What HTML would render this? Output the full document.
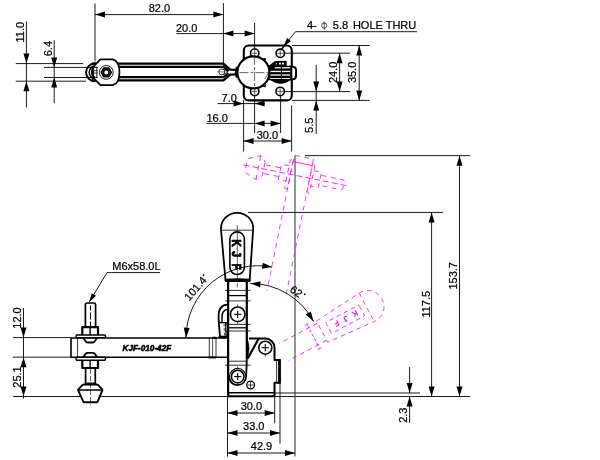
<!DOCTYPE html>
<html><head><meta charset="utf-8"><title>Toggle clamp KJF-010-42F</title>
<style>html,body{margin:0;padding:0;background:#fff;overflow:hidden}svg{display:block;will-change:transform;transform:translateZ(0)}text{font-family:"Liberation Sans",sans-serif;fill:#000;stroke:#000;stroke-width:0.22px}</style></head><body>
<svg width="600" height="460" viewBox="0 0 600 460" stroke-linecap="butt" stroke-linejoin="round">
<rect x="0" y="0" width="600" height="460" fill="#fff"/>
<line x1="95.00" y1="3.50" x2="95.00" y2="61.50" stroke="#000" stroke-width="0.9" />
<line x1="223.40" y1="3.00" x2="223.40" y2="68.00" stroke="#000" stroke-width="0.9" />
<line x1="95.00" y1="14.60" x2="223.40" y2="14.60" stroke="#000" stroke-width="0.9" />
<polygon points="95.00,14.60 105.00,11.60 105.00,17.60" fill="#000"/>
<polygon points="223.40,14.60 213.40,17.60 213.40,11.60" fill="#000"/>
<text x="159.40" y="12.20" text-anchor="middle" font-size="11" >82.0</text>
<line x1="254.60" y1="23.00" x2="254.60" y2="133.00" stroke="#000" stroke-width="0.9" />
<line x1="176.40" y1="33.60" x2="254.60" y2="33.60" stroke="#000" stroke-width="0.9" />
<polygon points="223.40,33.60 233.40,30.60 233.40,36.60" fill="#000"/>
<polygon points="254.60,33.60 244.60,36.60 244.60,30.60" fill="#000"/>
<text x="186.70" y="31.70" text-anchor="middle" font-size="11" >20.0</text>
<line x1="26.40" y1="21.50" x2="26.40" y2="107.50" stroke="#000" stroke-width="0.9" />
<line x1="15.80" y1="63.60" x2="83.00" y2="63.60" stroke="#000" stroke-width="0.9" />
<line x1="15.80" y1="81.20" x2="86.00" y2="81.20" stroke="#000" stroke-width="0.9" />
<polygon points="26.40,63.60 23.40,53.60 29.40,53.60" fill="#000"/>
<polygon points="26.40,81.20 29.40,91.20 23.40,91.20" fill="#000"/>
<text x="24.40" y="32.20" text-anchor="middle" font-size="11" transform="rotate(-90 24.40 32.20)" >11.0</text>
<line x1="54.20" y1="40.30" x2="54.20" y2="103.30" stroke="#000" stroke-width="0.9" />
<line x1="44.00" y1="67.40" x2="92.00" y2="67.40" stroke="#000" stroke-width="0.9" />
<line x1="44.00" y1="77.50" x2="92.00" y2="77.50" stroke="#000" stroke-width="0.9" />
<polygon points="54.20,67.40 51.20,57.40 57.20,57.40" fill="#000"/>
<polygon points="54.20,77.50 57.20,87.50 51.20,87.50" fill="#000"/>
<text x="52.00" y="48.60" text-anchor="middle" font-size="11" transform="rotate(-90 52.00 48.60)" >6.4</text>
<line x1="243.60" y1="100.00" x2="243.60" y2="151.50" stroke="#000" stroke-width="0.9" />
<line x1="217.60" y1="103.60" x2="265.00" y2="103.60" stroke="#000" stroke-width="0.9" />
<polygon points="243.60,103.60 233.60,106.60 233.60,100.60" fill="#000"/>
<polygon points="254.60,103.60 264.60,100.60 264.60,106.60" fill="#000"/>
<text x="229.20" y="101.70" text-anchor="middle" font-size="11" >7.0</text>
<line x1="280.60" y1="92.00" x2="280.60" y2="133.00" stroke="#000" stroke-width="0.9" />
<line x1="206.40" y1="123.40" x2="280.60" y2="123.40" stroke="#000" stroke-width="0.9" />
<polygon points="254.60,123.40 264.60,120.40 264.60,126.40" fill="#000"/>
<polygon points="280.60,123.40 270.60,126.40 270.60,120.40" fill="#000"/>
<text x="217.10" y="121.60" text-anchor="middle" font-size="11" >16.0</text>
<line x1="291.60" y1="105.50" x2="291.60" y2="151.50" stroke="#000" stroke-width="0.9" />
<line x1="243.60" y1="141.00" x2="291.60" y2="141.00" stroke="#000" stroke-width="0.9" />
<polygon points="243.60,141.00 253.60,138.00 253.60,144.00" fill="#000"/>
<polygon points="291.60,141.00 281.60,144.00 281.60,138.00" fill="#000"/>
<text x="267.40" y="138.50" text-anchor="middle" font-size="11" >30.0</text>
<line x1="292.00" y1="45.50" x2="369.50" y2="45.50" stroke="#000" stroke-width="0.9" />
<line x1="285.00" y1="53.20" x2="350.00" y2="53.20" stroke="#000" stroke-width="0.9" />
<line x1="285.00" y1="91.60" x2="350.00" y2="91.60" stroke="#000" stroke-width="0.9" />
<line x1="292.00" y1="100.40" x2="369.50" y2="100.40" stroke="#000" stroke-width="0.9" />
<line x1="339.60" y1="53.20" x2="339.60" y2="91.60" stroke="#000" stroke-width="0.9" />
<polygon points="339.60,53.20 342.60,63.20 336.60,63.20" fill="#000"/>
<polygon points="339.60,91.60 336.60,81.60 342.60,81.60" fill="#000"/>
<text x="337.40" y="72.40" text-anchor="middle" font-size="11" transform="rotate(-90 337.40 72.40)" >24.0</text>
<line x1="359.20" y1="45.50" x2="359.20" y2="100.40" stroke="#000" stroke-width="0.9" />
<polygon points="359.20,45.50 362.20,55.50 356.20,55.50" fill="#000"/>
<polygon points="359.20,100.40 356.20,90.40 362.20,90.40" fill="#000"/>
<text x="356.20" y="72.40" text-anchor="middle" font-size="11" transform="rotate(-90 356.20 72.40)" >35.0</text>
<line x1="316.20" y1="65.00" x2="316.20" y2="134.00" stroke="#000" stroke-width="0.9" />
<polygon points="316.20,91.60 313.20,81.60 319.20,81.60" fill="#000"/>
<polygon points="316.20,100.40 319.20,110.40 313.20,110.40" fill="#000"/>
<text x="313.40" y="125.30" text-anchor="middle" font-size="11" transform="rotate(-90 313.40 125.30)" >5.5</text>
<path d="M 284.6,45.2 L 295.5,31.7 L 417,31.7" stroke="#000" stroke-width="0.9" fill="none" />
<polygon points="283.40,46.60 287.12,38.03 291.01,41.18" fill="#000"/>
<line x1="284.50" y1="45.50" x2="281.50" y2="49.50" stroke="#000" stroke-width="1.4" />
<text x="307.00" y="29.30" text-anchor="start" font-size="11" >4-</text>
<circle cx="324.20" cy="25.60" r="2.60" stroke="#000" stroke-width="0.7" fill="none" />
<line x1="324.20" y1="21.60" x2="324.20" y2="29.80" stroke="#000" stroke-width="0.7" />
<text x="332.80" y="29.30" text-anchor="start" font-size="11" >5.8</text>
<text x="352.90" y="29.30" text-anchor="start" font-size="11" >HOLE THRU</text>
<path d="M 92,63.7 L 223.4,63.7 L 230.2,69.6 L 237,69.9" stroke="#000" stroke-width="2.3" fill="none" />
<path d="M 92,80.4 L 223.4,80.4 L 230.2,74.6 L 237,74.3" stroke="#000" stroke-width="2.3" fill="none" />
<path d="M 92,66.9 L 223.4,66.9 L 228.6,71.0" stroke="#000" stroke-width="2.3" fill="none" />
<path d="M 92,77.2 L 223.4,77.2 L 228.6,73.3" stroke="#000" stroke-width="2.3" fill="none" />
<circle cx="221.80" cy="71.90" r="3.00" stroke="#000" stroke-width="0.8" fill="none" />
<path d="M 223.6,69.2 L 228.0,71.9 L 223.6,74.6" stroke="#000" stroke-width="0.8" fill="none" />
<line x1="217.00" y1="71.90" x2="225.50" y2="71.90" stroke="#000" stroke-width="0.5" />
<path d="M 236.8,66.89999999999999 Q 234.6,72.3 236.8,77.7" stroke="#000" stroke-width="1.8" fill="none" />
<path d="M 95.0,65.1 L 100.4,59.4 L 112.6,59.4 C 117.4,60.5 119.5,64.7 119.5,72.3 C 119.5,79.89999999999999 117.4,84.1 112.6,85.2 L 100.4,85.2 L 95.0,79.5" stroke="#000" stroke-width="1.7" fill="#fff" />
<path d="M 95.4,63.3 A 9.4,9.0 0 0 0 95.4,81.3" stroke="#000" stroke-width="2.0" fill="none" />
<path d="M 95.4,65.7 A 6.2,6.6 0 0 0 95.4,78.89999999999999" stroke="#000" stroke-width="1.5" fill="none" />
<path d="M 92.6,67.3 Q 91.2,72.3 92.6,77.3" stroke="#000" stroke-width="1.9" fill="none" />
<line x1="93.00" y1="67.40" x2="97.60" y2="67.40" stroke="#000" stroke-width="0.9" />
<line x1="93.00" y1="77.40" x2="97.60" y2="77.40" stroke="#000" stroke-width="0.9" />
<line x1="93.00" y1="70.70" x2="97.60" y2="70.70" stroke="#000" stroke-width="0.8" />
<line x1="93.00" y1="73.10" x2="97.60" y2="73.10" stroke="#000" stroke-width="0.8" />
<line x1="93.50" y1="66.80" x2="93.50" y2="77.80" stroke="#000" stroke-width="0.9" />
<line x1="96.90" y1="66.80" x2="96.90" y2="77.80" stroke="#000" stroke-width="0.9" />
<circle cx="106.30" cy="72.40" r="6.90" stroke="#000" stroke-width="0.9" fill="none" />
<path d="M 111.20,72.40 L 108.75,76.64 L 103.85,76.64 L 101.40,72.40 L 103.85,68.16 L 108.75,68.16 Z" stroke="#000" stroke-width="1.8" fill="none" />
<circle cx="106.30" cy="72.40" r="2.80" stroke="#000" stroke-width="1.6" fill="none" />
<rect x="243.8" y="45.5" width="48" height="54.9" rx="5" ry="5" fill="none" stroke="#000" stroke-width="2.1"/>
<circle cx="254.70" cy="53.20" r="4.20" stroke="#000" stroke-width="1.6" fill="#fff" />
<line x1="251.70" y1="53.20" x2="257.70" y2="53.20" stroke="#000" stroke-width="0.6" />
<line x1="254.70" y1="50.20" x2="254.70" y2="56.20" stroke="#000" stroke-width="0.6" />
<circle cx="280.30" cy="53.30" r="4.20" stroke="#000" stroke-width="1.6" fill="#fff" />
<line x1="277.30" y1="53.30" x2="283.30" y2="53.30" stroke="#000" stroke-width="0.6" />
<line x1="280.30" y1="50.30" x2="280.30" y2="56.30" stroke="#000" stroke-width="0.6" />
<circle cx="254.70" cy="91.40" r="4.20" stroke="#000" stroke-width="1.6" fill="#fff" />
<line x1="251.70" y1="91.40" x2="257.70" y2="91.40" stroke="#000" stroke-width="0.6" />
<line x1="254.70" y1="88.40" x2="254.70" y2="94.40" stroke="#000" stroke-width="0.6" />
<circle cx="280.20" cy="91.40" r="4.20" stroke="#000" stroke-width="1.6" fill="#fff" />
<line x1="277.20" y1="91.40" x2="283.20" y2="91.40" stroke="#000" stroke-width="0.6" />
<line x1="280.20" y1="88.40" x2="280.20" y2="94.40" stroke="#000" stroke-width="0.6" />
<g transform="translate(0 0.7)">
<path d="M 270.2,79 Q 281,86.6 290.6,79 Z" stroke="#000" stroke-width="0.6" fill="#000" />
<polygon points="268.2,65.6 275.4,60.0 275.4,65.6" fill="#000"/>
<rect x="275.2" y="60.2" width="11.4" height="5.2" fill="#000"/>
<rect x="279.0" y="61.9" width="1.9" height="1.9" fill="#fff"/>
<rect x="281.9" y="61.9" width="2.1" height="1.9" fill="#fff"/>
<rect x="276.1" y="62.3" width="0.9" height="1.4" fill="#ddd"/>
<rect x="268.6" y="65.0" width="22" height="14.5" fill="#000"/>
<rect x="274.8" y="66.5" width="15.4" height="1.2" fill="#fff"/>
<rect x="270.3" y="70.1" width="19.9" height="1.3" fill="#fff"/>
<rect x="270.3" y="73.7" width="19.9" height="1.3" fill="#fff"/>
<rect x="270.0" y="77.3" width="20.2" height="0.9" fill="#fff"/>
<line x1="281.40" y1="65.00" x2="281.40" y2="82.00" stroke="#000" stroke-width="1.0" />
<path d="M 291,66.0 L 293,66.0 Q 296.0,66.2 296.0,69.6 L 296.0,75 Q 296.0,78.4 293,78.6 L 291,78.6" stroke="#000" stroke-width="2.0" fill="#fff" />
<line x1="291.30" y1="64.60" x2="291.30" y2="80.00" stroke="#000" stroke-width="2.0" />
</g>
<circle cx="253.40" cy="72.40" r="16.00" stroke="#000" stroke-width="2.1" fill="#fff" />
<polygon points="262.5,58.2 265.5,58 266.3,61.2" fill="#000"/>
<polygon points="262.5,87 265.5,87.2 266.3,84" fill="#000"/>
<line x1="239.50" y1="72.60" x2="268.50" y2="72.60" stroke="#000" stroke-width="0.6" stroke-dasharray="9 2 3 2"/>
<line x1="254.60" y1="56.00" x2="254.60" y2="89.00" stroke="#000" stroke-width="0.6" stroke-dasharray="9 2 3 2"/>
<line x1="264.80" y1="79.00" x2="268.60" y2="72.60" stroke="#000" stroke-width="0.6" />
<line x1="13.00" y1="396.50" x2="470.00" y2="396.50" stroke="#000" stroke-width="0.9" />
<line x1="274.50" y1="393.00" x2="420.00" y2="393.00" stroke="#000" stroke-width="0.9" />
<line x1="13.00" y1="337.60" x2="71.00" y2="337.60" stroke="#000" stroke-width="0.9" />
<line x1="13.00" y1="357.20" x2="71.00" y2="357.20" stroke="#000" stroke-width="0.9" />
<line x1="295.00" y1="155.40" x2="295.00" y2="456.50" stroke="#2a2a2a" stroke-width="1.0" />
<line x1="305.00" y1="155.65" x2="470.00" y2="155.65" stroke="#000" stroke-width="0.9" />
<line x1="248.00" y1="212.45" x2="443.00" y2="212.45" stroke="#000" stroke-width="0.9" />
<line x1="23.50" y1="308.00" x2="23.50" y2="398.50" stroke="#000" stroke-width="0.9" />
<polygon points="23.50,337.60 20.50,327.60 26.50,327.60" fill="#000"/>
<polygon points="23.50,357.20 26.50,367.20 20.50,367.20" fill="#000"/>
<polygon points="23.50,396.50 20.50,386.50 26.50,386.50" fill="#000"/>
<text x="21.00" y="318.00" text-anchor="middle" font-size="11" transform="rotate(-90 21.00 318.00)" >12.0</text>
<text x="20.80" y="377.00" text-anchor="middle" font-size="11" transform="rotate(-90 20.80 377.00)" >25.1</text>
<path d="M 89.6,301.5 L 107,272.6 L 160,272.6" stroke="#000" stroke-width="0.9" fill="none" />
<polygon points="89.00,302.60 91.75,293.17 96.04,295.74" fill="#000"/>
<text x="112.30" y="270.00" text-anchor="start" font-size="11" >M6x58.0L</text>
<line x1="431.60" y1="212.45" x2="431.60" y2="396.50" stroke="#000" stroke-width="0.9" />
<polygon points="431.60,212.45 434.60,222.45 428.60,222.45" fill="#000"/>
<polygon points="431.60,396.50 428.60,386.50 434.60,386.50" fill="#000"/>
<text x="429.60" y="304.20" text-anchor="middle" font-size="11" transform="rotate(-90 429.60 304.20)" >117.5</text>
<line x1="459.50" y1="155.65" x2="459.50" y2="396.50" stroke="#000" stroke-width="0.9" />
<polygon points="459.50,155.65 462.50,165.65 456.50,165.65" fill="#000"/>
<polygon points="459.50,396.50 456.50,386.50 462.50,386.50" fill="#000"/>
<text x="456.60" y="275.80" text-anchor="middle" font-size="11" transform="rotate(-90 456.60 275.80)" >153.7</text>
<line x1="409.60" y1="367.00" x2="409.60" y2="393.00" stroke="#000" stroke-width="0.9" />
<line x1="409.60" y1="396.50" x2="409.60" y2="423.00" stroke="#000" stroke-width="0.9" />
<polygon points="409.60,393.00 406.60,383.00 412.60,383.00" fill="#000"/>
<polygon points="409.60,396.50 412.60,406.50 406.60,406.50" fill="#000"/>
<text x="407.20" y="415.20" text-anchor="middle" font-size="11" transform="rotate(-90 407.20 415.20)" >2.3</text>
<line x1="227.50" y1="396.50" x2="227.50" y2="456.70" stroke="#000" stroke-width="0.9" />
<line x1="274.70" y1="396.50" x2="274.70" y2="423.30" stroke="#000" stroke-width="0.9" />
<line x1="280.00" y1="383.00" x2="280.00" y2="443.70" stroke="#000" stroke-width="0.9" />
<line x1="227.50" y1="413.00" x2="274.70" y2="413.00" stroke="#000" stroke-width="0.9" />
<polygon points="227.50,413.00 237.50,410.00 237.50,416.00" fill="#000"/>
<polygon points="274.70,413.00 264.70,416.00 264.70,410.00" fill="#000"/>
<text x="251.40" y="410.40" text-anchor="middle" font-size="11" >30.0</text>
<line x1="227.50" y1="433.00" x2="280.00" y2="433.00" stroke="#000" stroke-width="0.9" />
<polygon points="227.50,433.00 237.50,430.00 237.50,436.00" fill="#000"/>
<polygon points="280.00,433.00 270.00,436.00 270.00,430.00" fill="#000"/>
<text x="253.80" y="430.40" text-anchor="middle" font-size="11" >33.0</text>
<line x1="227.50" y1="453.00" x2="295.00" y2="453.00" stroke="#000" stroke-width="0.9" />
<polygon points="227.50,453.00 237.50,450.00 237.50,456.00" fill="#000"/>
<polygon points="295.00,453.00 285.00,456.00 285.00,450.00" fill="#000"/>
<text x="261.50" y="450.20" text-anchor="middle" font-size="11" >42.9</text>
<g transform="rotate(101.4 265.3 347.6)">
<path d="M 209.0,337.6 L 71.0,337.6 L 71.0,357.2 L 209.0,357.2" stroke="#ff00ff" stroke-width="0.75" fill="none" stroke-dasharray="5 4.5"/>
<line x1="77.60" y1="337.60" x2="77.60" y2="357.20" stroke="#ff00ff" stroke-width="0.8" />
<path d="M 85.4,326.5 L 85.4,304.6 Q 85.5,303 87,303 L 94,303 Q 95.5,303 95.6,304.6 L 95.6,326.5" stroke="#ff00ff" stroke-width="0.75" fill="none" stroke-dasharray="5 4.5"/>
<path d="M 82.3,335 L 82.3,327.2 L 98.0,327.2 L 98.0,335" stroke="#ff00ff" stroke-width="0.8" fill="none" stroke-dasharray="5 4.5"/>
<path d="M 76.5,335 L 105,335 Q 106.3,336.3 105,337.6 L 76.5,337.6 Q 75.2,336.3 76.5,335 Z" stroke="#ff00ff" stroke-width="0.8" fill="none" stroke-dasharray="5 4.5"/>
<path d="M 76.5,357.2 L 105,357.2 Q 106.3,358.7 105,360.2 L 76.5,360.2 Q 75.2,358.7 76.5,357.2 Z" stroke="#ff00ff" stroke-width="0.8" fill="none" stroke-dasharray="5 4.5"/>
<path d="M 82.3,360.2 L 82.3,368.0 L 98.0,368.0 L 98.0,360.2" stroke="#ff00ff" stroke-width="0.8" fill="none" stroke-dasharray="5 4.5"/>
<path d="M 86.0,368.6 L 86.0,384 M 95.0,368.6 L 95.0,384" stroke="#ff00ff" stroke-width="0.8" fill="none" stroke-dasharray="5 4.5"/>
<path d="M 84,384.5 L 96.6,384.5 Q 98,384.6 99,385.8 L 102.5,389.8 L 97.8,401.3 Q 97.4,402.3 96.3,402.3 L 84.7,402.3 Q 83.6,402.3 83.2,401.3 L 78,389.8 L 81.6,385.8 Q 82.6,384.6 84,384.5 Z" stroke="#ff00ff" stroke-width="0.8" fill="none" stroke-dasharray="5 4.5"/>
<line x1="78.60" y1="390.00" x2="101.90" y2="390.00" stroke="#ff00ff" stroke-width="0.8" stroke-dasharray="5 4.5"/>
<line x1="90.50" y1="300.00" x2="90.50" y2="408.00" stroke="#ff00ff" stroke-width="0.8" stroke-dasharray="6 3"/>
</g>
<g transform="rotate(62 237.7 376.6)">
<path d="M 225.6,281 L 221.3,233 Q 220.9,230 221.0,228.3 A 16.1,15.5 0 0 1 253.2,228.3 Q 253.3,230 252.9,233 L 249.6,281 Z" stroke="#ff00ff" stroke-width="0.75" fill="none" stroke-dasharray="4.5 4"/>
<line x1="220.80" y1="230.20" x2="253.40" y2="230.20" stroke="#ff00ff" stroke-width="0.75" stroke-dasharray="4.5 4"/>
<rect x="231.3" y="236" width="12.4" height="37.5" rx="1" ry="1" fill="none" stroke="#ff00ff" stroke-width="0.75" stroke-dasharray="4.5 3.5"/>
<text x="0" y="0" text-anchor="middle" transform="translate(234.6 243.5) rotate(90)" font-size="8" font-weight="bold" style="fill:#ff00ff;stroke:none">K</text>
<text x="0" y="0" text-anchor="middle" transform="translate(234.6 254.0) rotate(90)" font-size="8" font-weight="bold" style="fill:#ff00ff;stroke:none">J</text>
<text x="0" y="0" text-anchor="middle" transform="translate(234.6 264.5) rotate(90)" font-size="8" font-weight="bold" style="fill:#ff00ff;stroke:none">F</text>
<path d="M 228,281 L 228,324 M 247.4,281 L 247.4,324" stroke="#ff00ff" stroke-width="0.8" fill="none" stroke-dasharray="4.5 4"/>
<line x1="225.00" y1="291.00" x2="250.50" y2="291.00" stroke="#ff00ff" stroke-width="0.8" stroke-dasharray="3 2"/>
<line x1="224.00" y1="289.00" x2="224.00" y2="293.00" stroke="#ff00ff" stroke-width="0.8" />
<line x1="251.50" y1="289.00" x2="251.50" y2="293.00" stroke="#ff00ff" stroke-width="0.8" />
</g>
<path d="M 227.0,338.0 L 71.0,338.0 L 71.0,357.2 L 227.0,357.2" stroke="#000" stroke-width="1.6" fill="none" />
<line x1="77.60" y1="338.00" x2="77.60" y2="357.00" stroke="#000" stroke-width="0.8" />
<path d="M 85.4,326.5 L 85.4,304.6 Q 85.5,303 87,303 L 94,303 Q 95.5,303 95.6,304.6 L 95.6,326.5" stroke="#000" stroke-width="1.7" fill="none" />
<line x1="90.50" y1="305.50" x2="90.50" y2="326.00" stroke="#000" stroke-width="1.0" stroke-dasharray="5 2 7 2 5 2"/>
<path d="M 82.3,335 L 82.3,327.2 L 98.0,327.2 L 98.0,335" stroke="#000" stroke-width="2.2" fill="none" />
<line x1="90.10" y1="326.60" x2="90.10" y2="335.00" stroke="#000" stroke-width="1.4" />
<path d="M 76.5,335 L 105,335 Q 106.3,336.3 105,337.6 L 76.5,337.6 Q 75.2,336.3 76.5,335 Z" stroke="#000" stroke-width="1.4" fill="none" />
<path d="M 83.0,337.6 L 85.8,341.6 Q 86.4,342.5 87.6,342.5 L 92.8,342.5 Q 94,342.5 94.6,341.6 L 97.4,337.6" stroke="#000" stroke-width="1.8" fill="none" />
<path d="M 83.0,357.2 L 85.8,353.6 Q 86.4,352.9 87.6,352.9 L 92.8,352.9 Q 94,352.9 94.6,353.6 L 97.4,357.2" stroke="#000" stroke-width="1.8" fill="none" />
<path d="M 76.5,357.2 L 105,357.2 Q 106.3,358.7 105,360.2 L 76.5,360.2 Q 75.2,358.7 76.5,357.2 Z" stroke="#000" stroke-width="1.4" fill="none" />
<path d="M 82.3,360.2 L 82.3,368.0 L 98.0,368.0 L 98.0,360.2" stroke="#000" stroke-width="2.2" fill="none" />
<line x1="90.10" y1="360.20" x2="90.10" y2="368.60" stroke="#000" stroke-width="1.4" />
<path d="M 85.6,368.6 L 85.6,384 M 95.3,368.6 L 95.3,384" stroke="#000" stroke-width="1.7" fill="none" />
<line x1="85.60" y1="383.20" x2="95.30" y2="383.20" stroke="#000" stroke-width="1.3" />
<path d="M 84,384.5 L 96.6,384.5 Q 98,384.6 99,385.8 L 102.5,389.8 L 97.8,401.3 Q 97.4,402.3 96.3,402.3 L 84.7,402.3 Q 83.6,402.3 83.2,401.3 L 78,389.8 L 81.6,385.8 Q 82.6,384.6 84,384.5 Z" stroke="#000" stroke-width="1.9" fill="#fff" />
<line x1="78.60" y1="390.00" x2="101.90" y2="390.00" stroke="#000" stroke-width="1.5" />
<line x1="90.50" y1="369.00" x2="90.50" y2="404.50" stroke="#000" stroke-width="0.6" stroke-dasharray="5 2"/>
<line x1="209.30" y1="337.60" x2="209.30" y2="357.20" stroke="#000" stroke-width="0.8" />
<line x1="212.60" y1="337.60" x2="212.60" y2="357.20" stroke="#000" stroke-width="0.7" />
<line x1="216.00" y1="337.60" x2="216.00" y2="357.20" stroke="#000" stroke-width="0.8" />
<line x1="212.20" y1="337.80" x2="216.40" y2="337.80" stroke="#000" stroke-width="2.0" />
<line x1="208.80" y1="357.50" x2="216.40" y2="357.50" stroke="#000" stroke-width="1.8" />
<text x="122.6" y="350.9" font-size="9.5" font-weight="bold" font-style="italic" textLength="48.6" lengthAdjust="spacingAndGlyphs" style="stroke-width:0.6px">KJF-010-42F</text>
<path d="M 227.4,304.6 C 221.5,305 218.6,309.5 218.6,316 L 218.8,322.6 L 220.0,336.4" stroke="#000" stroke-width="1.8" fill="none" />
<path d="M 227.4,309.4 C 223.6,309.8 222.0,313 222.0,317 L 222.0,322.6" stroke="#000" stroke-width="1.5" fill="none" />
<path d="M 218.8,322.7 L 227,322.7 M 225.6,323 L 226.2,336.4" stroke="#000" stroke-width="1.3" fill="none" />
<line x1="224.00" y1="323.50" x2="224.50" y2="336.00" stroke="#000" stroke-width="0.7" stroke-dasharray="3 1.5"/>
<line x1="218.60" y1="336.90" x2="227.40" y2="336.90" stroke="#000" stroke-width="2.4" />
<path d="M 249,338.5 L 265.3,338.5 A 9.2,9.1 0 0 1 274.5,347.6 L 274.5,360 L 279.8,360 L 279.8,382.8 L 274.5,382.8 L 274.5,396.2 L 227.9,396.2" stroke="#000" stroke-width="2.0" fill="none" />
<line x1="228.00" y1="392.80" x2="274.50" y2="392.80" stroke="#000" stroke-width="1.6" />
<line x1="276.60" y1="360.50" x2="276.60" y2="382.40" stroke="#000" stroke-width="0.8" />
<line x1="279.40" y1="359.20" x2="279.40" y2="383.60" stroke="#000" stroke-width="2.6" />
<path d="M 258.6,338.8 L 247.6,358.6" stroke="#000" stroke-width="2.2" fill="none" />
<line x1="228.10" y1="281.00" x2="228.10" y2="396.20" stroke="#000" stroke-width="2.2" />
<line x1="246.80" y1="281.00" x2="246.80" y2="358.00" stroke="#000" stroke-width="2.2" />
<path d="M 246.8,357 L 246.6,366 Q 246.4,372 246.0,376.8 A 8.7,8.7 0 0 1 228.8,378.0" stroke="#000" stroke-width="1.8" fill="none" />
<path d="M 247.4,339.5 Q 250.8,348 247.4,357.5 Z" stroke="#000" stroke-width="0.5" fill="#000" />
<line x1="225.00" y1="290.40" x2="250.60" y2="290.40" stroke="#000" stroke-width="0.8" />
<line x1="225.00" y1="300.90" x2="250.60" y2="300.90" stroke="#000" stroke-width="0.8" />
<line x1="225.00" y1="324.40" x2="250.60" y2="324.40" stroke="#000" stroke-width="0.8" />
<line x1="225.00" y1="331.00" x2="250.60" y2="331.00" stroke="#000" stroke-width="0.8" />
<line x1="229.00" y1="295.60" x2="246.00" y2="295.60" stroke="#000" stroke-width="1.3" />
<line x1="229.00" y1="327.80" x2="246.00" y2="327.80" stroke="#000" stroke-width="1.3" />
<line x1="225.00" y1="365.20" x2="250.60" y2="365.20" stroke="#000" stroke-width="0.8" />
<line x1="229.00" y1="361.20" x2="246.00" y2="361.20" stroke="#000" stroke-width="0.8" />
<circle cx="237.70" cy="314.30" r="7.30" stroke="#000" stroke-width="1.6" fill="#fff" />
<line x1="234.10" y1="314.30" x2="241.30" y2="314.30" stroke="#000" stroke-width="1.1" />
<line x1="237.70" y1="310.70" x2="237.70" y2="317.90" stroke="#000" stroke-width="1.1" />
<line x1="237.70" y1="304.50" x2="237.70" y2="306.80" stroke="#000" stroke-width="0.7" />
<line x1="237.70" y1="321.80" x2="237.70" y2="324.20" stroke="#000" stroke-width="0.7" />
<circle cx="265.30" cy="347.70" r="6.50" stroke="#000" stroke-width="1.6" fill="#fff" />
<line x1="261.70" y1="347.70" x2="268.90" y2="347.70" stroke="#000" stroke-width="1.1" />
<line x1="265.30" y1="344.10" x2="265.30" y2="351.30" stroke="#000" stroke-width="1.1" />
<line x1="265.30" y1="353.80" x2="265.30" y2="356.30" stroke="#000" stroke-width="0.7" />
<circle cx="237.70" cy="376.60" r="8.20" stroke="#000" stroke-width="1.2" fill="#fff" />
<circle cx="237.70" cy="376.60" r="6.30" stroke="#000" stroke-width="1.6" fill="#fff" />
<line x1="234.10" y1="376.60" x2="241.30" y2="376.60" stroke="#000" stroke-width="1.1" />
<line x1="237.70" y1="373.00" x2="237.70" y2="380.20" stroke="#000" stroke-width="1.1" />
<line x1="237.70" y1="366.50" x2="237.70" y2="368.80" stroke="#000" stroke-width="0.7" />
<circle cx="250.60" cy="385.00" r="3.90" stroke="#000" stroke-width="1.3" fill="#fff" />
<line x1="247.60" y1="385.00" x2="253.60" y2="385.00" stroke="#000" stroke-width="0.7" />
<line x1="250.60" y1="382.00" x2="250.60" y2="388.00" stroke="#000" stroke-width="0.7" />
<path d="M 225.6,281 L 221.3,233 Q 220.9,230 221.0,228.3 A 16.1,15.5 0 0 1 253.2,228.3 Q 253.3,230 252.9,233 L 249.6,281 Z" stroke="#000" stroke-width="1.8" fill="#fff" />
<line x1="220.80" y1="230.20" x2="253.40" y2="230.20" stroke="#000" stroke-width="0.8" />
<rect x="229.9" y="231.9" width="14.5" height="42.6" rx="7.25" ry="7.25" fill="none" stroke="#000" stroke-width="1.6"/>
<line x1="237.30" y1="225.00" x2="237.30" y2="278.50" stroke="#000" stroke-width="0.6" />
<line x1="237.30" y1="283.00" x2="237.30" y2="287.50" stroke="#000" stroke-width="0.6" />
<path d="M 224.9,280.2 Q 237.5,279.0 250.4,280.2" stroke="#000" stroke-width="2.9" fill="none" />
<text x="0" y="0" text-anchor="middle" transform="translate(232.0 242.9) rotate(90) scale(0.80 1.04)" font-size="13" font-weight="bold" style="stroke-width:0.8px">K</text>
<text x="0" y="0" text-anchor="middle" transform="translate(232.0 254.2) rotate(90) scale(0.80 1.04)" font-size="13" font-weight="bold" style="stroke-width:0.8px">J</text>
<text x="0" y="0" text-anchor="middle" transform="translate(232.0 266.7) rotate(90) scale(0.80 1.04)" font-size="13" font-weight="bold" style="stroke-width:0.8px">F</text>
<path d="M 186.00,337.70 A 72.0,72.0 0 0 1 272.23,267.12" stroke="#000" stroke-width="0.9" fill="none" />
<polygon points="186.00,337.70 183.70,327.52 189.69,327.93" fill="#000"/>
<polygon points="272.23,267.12 261.93,268.80 262.70,262.85" fill="#000"/>
<g transform="translate(198.2 291.0) rotate(-49)"><text x="0" y="0" text-anchor="middle" font-size="11">101.4</text><circle cx="15.4" cy="-6.4" r="0.9" fill="#000"/></g>
<path d="M 250.40,283.50 A 71.6,71.6 0 0 1 313.62,321.49" stroke="#000" stroke-width="0.9" fill="none" />
<polygon points="250.40,283.50 260.58,281.21 260.17,287.19" fill="#000"/>
<polygon points="313.62,321.49 305.78,314.60 310.86,311.42" fill="#000"/>
<g transform="translate(294.0 294.6) rotate(36)"><text x="0" y="0" text-anchor="middle" font-size="11">62</text><circle cx="8.6" cy="-6.6" r="0.9" fill="#000"/></g>
</svg></body></html>
